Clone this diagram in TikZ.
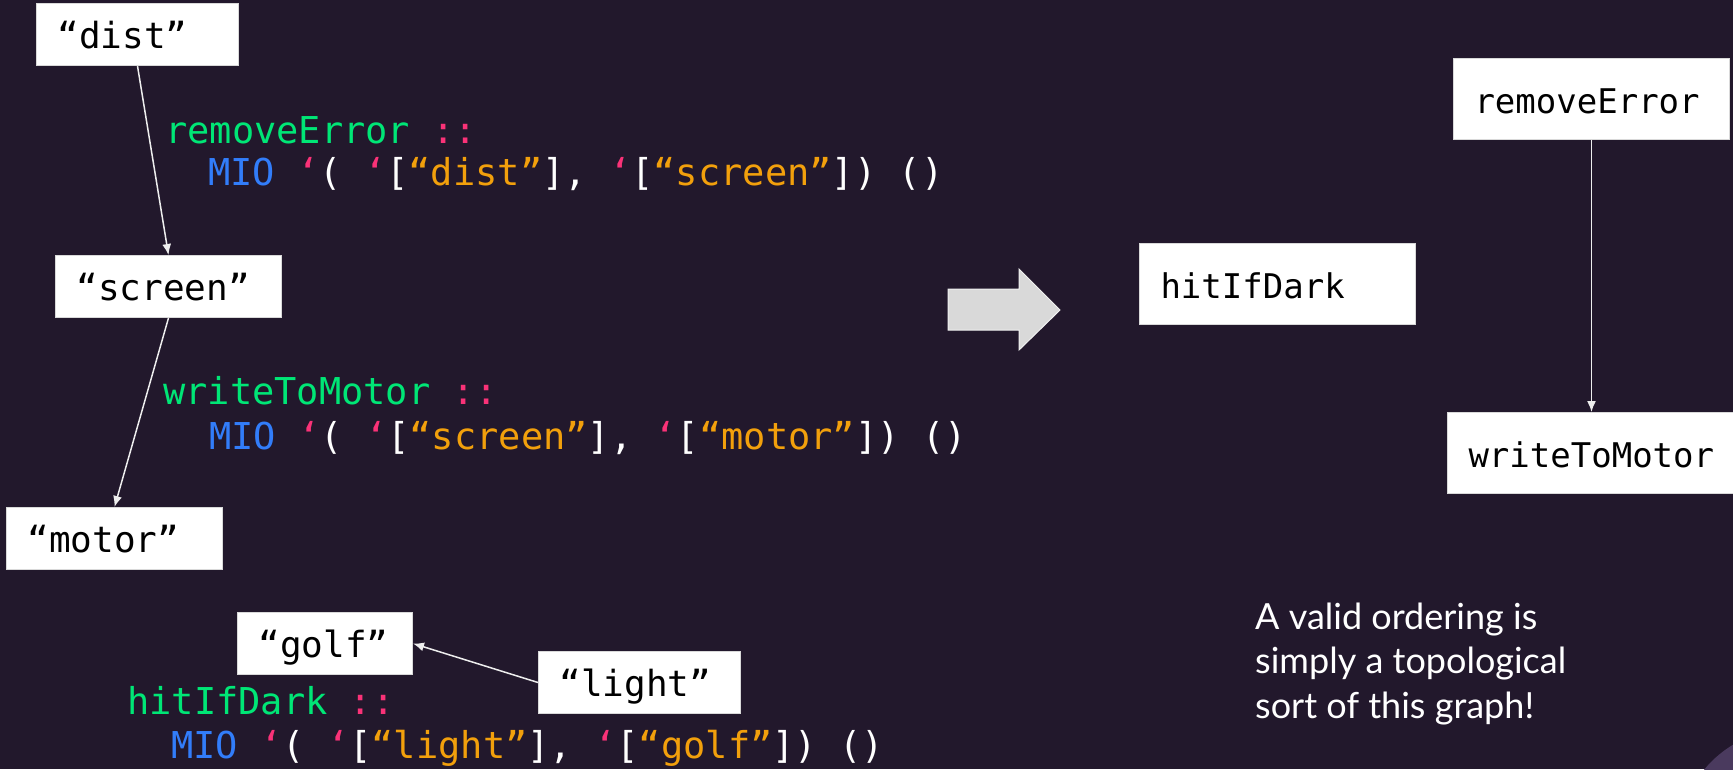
\documentclass[tikz,border=0pt]{standalone}
\usepackage{fontspec}
\usepackage{xcolor}
\usepackage{tikz}
\usetikzlibrary{arrows.meta,positioning}
\newfontfamily\codefont{DejaVu Sans Mono}
\newfontfamily\latofont{Lato}
\definecolor{slidebg}{RGB}{34,24,44}
\definecolor{slidecorner}{RGB}{74,58,94}
\definecolor{hsgreen}{RGB}{0,230,118}
\definecolor{hspink}{RGB}{250,50,120}
\definecolor{hsblue}{RGB}{50,125,250}
\definecolor{hsorange}{RGB}{242,160,12}
\definecolor{edgegray}{RGB}{238,238,238}
\newcommand{\cfun}[1]{\textcolor{hsgreen}{#1}}
\newcommand{\csym}[1]{\textcolor{hspink}{#1}}
\newcommand{\ctype}[1]{\textcolor{hsblue}{#1}}
\newcommand{\ctick}{\textcolor{hspink}{‘}}
\newcommand{\cstr}[1]{\textcolor{hsorange}{“#1”}}
\tikzset{
  tag/.style={draw=black!15, line width=1pt, fill=white, text=black, anchor=north west,
    align=left, text width=#1, inner xsep=21pt, minimum height=62pt,
    text height=28pt, text depth=0pt, font=\codefont\fontsize{36}{40}\selectfont},
  fnbox/.style={tag=#1, minimum height=81pt, font=\codefont\fontsize{34}{40}\selectfont},
  codeline/.style={anchor=base west, inner sep=0pt, text=white,
    font=\codefont\fontsize{37}{44}\selectfont},
  note/.style={anchor=base west, inner sep=0pt, align=left, text=white,
    font=\latofont\fontsize{36}{44.5}\selectfont},
  flow/.style={-{Latex[length=11pt,width=9pt]}, line width=1.5pt, draw=edgegray},
  bigarrow/.style={fill=black!15, draw=black!6, line width=1pt}
}
\begin{document}
\begin{tikzpicture}[x=1pt, y=-1pt]
    \fill[slidebg] (0,0) rectangle (1733,769);
    \useasboundingbox (0,0) rectangle (1733,769);
    \begin{scope}
        \clip (0,0) rectangle (1733,769);
        \fill[slidecorner] (1790,840) circle (111pt);
    \end{scope}
    \node[tag=160pt] (dist) at (36,3) {“dist”};
    \node[tag=184pt] (screen) at (55,255) {“screen”};
    \node[tag=174pt] (motor) at (6,507) {“motor”};
    \node[tag=133pt] (golf) at (237,612) {“golf”};
    \node[tag=160pt] (light) at (538,651) {“light”};
    \node[codeline] (remSig) at (165,143) {\cfun{removeError} \csym{::}};
    \node[codeline] (remTy) at (208,185) {\ctype{MIO} \ctick( \ctick[\cstr{dist}], \ctick[\cstr{screen}]) ()};
    \node[codeline] (wtmSig) at (163,404) {\cfun{writeToMotor} \csym{::}};
    \node[codeline] (wtmTy) at (209,449) {\ctype{MIO} \ctick( \ctick[\cstr{screen}], \ctick[\cstr{motor}]) ()};
    \node[codeline] (hitSig) at (127,714) {\cfun{hitIfDark} \csym{::}};
    \node[codeline] (hitTy) at (171,758) {\ctype{MIO} \ctick( \ctick[\cstr{light}], \ctick[\cstr{golf}]) ()};
    \draw[flow] (dist.south) -- (screen.north);
    \draw[flow] (screen.south) -- (motor.north);
    \draw[flow] (light.west) -- (golf.east);
    \draw[bigarrow] (948,289) -- (1019,289) -- (1019,269) -- (1060,310) -- (1019,350) -- (1019,330) -- (948,330) -- cycle;
    \node[fnbox=234pt] (hit) at (1139,243) {hitIfDark};
    \node[fnbox=234pt] (rmv) at (1453,58) {removeError};
    \node[fnbox=246pt, below=272pt of rmv] (wtm) {writeToMotor};
    \draw[flow] (rmv) -- (wtm);
    \node[note] (moral) at (1255,718) {A valid ordering is\\simply a topological\\sort of this graph!};
\end{tikzpicture}
\end{document}
